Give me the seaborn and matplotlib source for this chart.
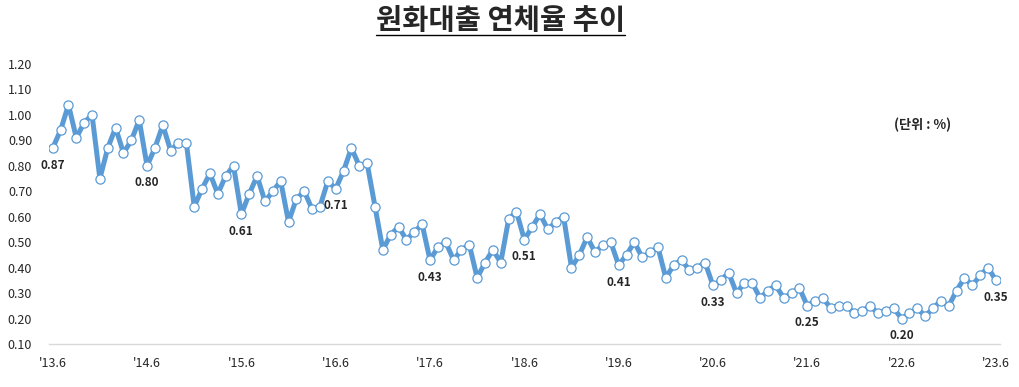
import pandas as pd
import matplotlib.pyplot as plt
import seaborn as sns
from matplotlib.lines import Line2D

# monthly delinquency rate of KRW loans (%), Jun 2013 - Jun 2023
months = pd.period_range('2013-06', '2023-06', freq='M').strftime('%Y-%m').tolist()
rates = [
    0.87, 0.94, 1.04, 0.91, 0.97, 1.00, 0.75, 0.87, 0.95, 0.85, 0.90, 0.98,
    0.80, 0.87, 0.96, 0.86, 0.89, 0.89, 0.64, 0.71, 0.77, 0.69, 0.76, 0.80,
    0.61, 0.69, 0.76, 0.66, 0.70, 0.74, 0.58, 0.67, 0.70, 0.63, 0.64, 0.74,
    0.71, 0.78, 0.87, 0.80, 0.81, 0.64, 0.47, 0.53, 0.56, 0.51, 0.54, 0.57,
    0.43, 0.48, 0.50, 0.43, 0.47, 0.49, 0.36, 0.42, 0.47, 0.42, 0.59, 0.62,
    0.51, 0.56, 0.61, 0.55, 0.58, 0.60, 0.40, 0.45, 0.52, 0.46, 0.49, 0.50,
    0.41, 0.45, 0.50, 0.44, 0.46, 0.48, 0.36, 0.41, 0.43, 0.39, 0.40, 0.42,
    0.33, 0.35, 0.38, 0.30, 0.34, 0.34, 0.28, 0.31, 0.33, 0.28, 0.30, 0.32,
    0.25, 0.27, 0.28, 0.24, 0.25, 0.25, 0.22, 0.23, 0.25, 0.22, 0.23, 0.24,
    0.20, 0.22, 0.24, 0.21, 0.24, 0.27, 0.25, 0.31, 0.36, 0.33, 0.37, 0.40,
    0.35,
]
tick_labels = ["'13.6", "'14.6", "'15.6", "'16.6", "'17.6", "'18.6",
               "'19.6", "'20.6", "'21.6", "'22.6", "'23.6"]
y_ticks = [0.10, 0.20, 0.30, 0.40, 0.50, 0.60, 0.70, 0.80, 0.90, 1.00, 1.10, 1.20]

title = '원화대출 연체율 추이'
unit = '(단위 : %)'
color = '#5B9BD5'

sns.set_style('white')
plt.rcParams['font.family'] = ['Noto Sans CJK KR', 'DejaVu Sans']

df = pd.DataFrame({'month': months, 'rate': rates})
df['pos'] = range(len(df))

fig = plt.figure(figsize=(10.19, 3.87), dpi=100)
ax = fig.add_axes([0.0479, 0.1111, 0.9333, 0.7235])

sns.lineplot(data=df, x='pos', y='rate', ax=ax, color=color, linewidth=3.6,
             marker='o', markersize=6.6, markerfacecolor='white',
             markeredgecolor=color, markeredgewidth=0.9)

# June of each year gets a value label
june = df[df.month.str.endswith('-06')]
for _, row in june.iterrows():
    ax.annotate('{:.2f}'.format(row.rate), (row.pos, row.rate),
                xytext=(0, -17), textcoords='offset pixels',
                ha='center', va='center', fontsize=8.5, fontweight='bold')

ax.set_xlim(-0.5, len(df) - 0.5)
ax.set_ylim(0.10, 1.20)
ax.set_xticks(june.pos.tolist())
ax.set_xticklabels(tick_labels, fontsize=9)
ax.set_yticks(y_ticks)
ax.set_yticklabels(['{:.2f}'.format(v) for v in y_ticks], fontsize=9)
ax.tick_params(axis='both', length=0)
ax.tick_params(axis='y', pad=12)
ax.tick_params(axis='x', pad=9)
ax.set_xlabel('')
ax.set_ylabel('')
for side in ['left', 'right', 'top']:
    ax.spines[side].set_visible(False)
ax.spines['bottom'].set_color('#D9D9D9')
ax.spines['bottom'].set_linewidth(1)

t = fig.text(0.4915, 0.947, title, ha='center', va='center',
             fontsize=20.5, fontweight='bold')
fig.text(0.905, 0.677, unit, ha='center', va='center',
         fontsize=9.5, fontweight='bold')

# underline the title
fig.canvas.draw()
bb = t.get_window_extent(fig.canvas.get_renderer()).transformed(fig.transFigure.inverted())
fig.add_artist(Line2D([bb.x0, bb.x1], [bb.y0 - 0.002, bb.y0 - 0.002],
                      transform=fig.transFigure, color='black', linewidth=1.0))

fig.savefig('out.png', dpi=100)
